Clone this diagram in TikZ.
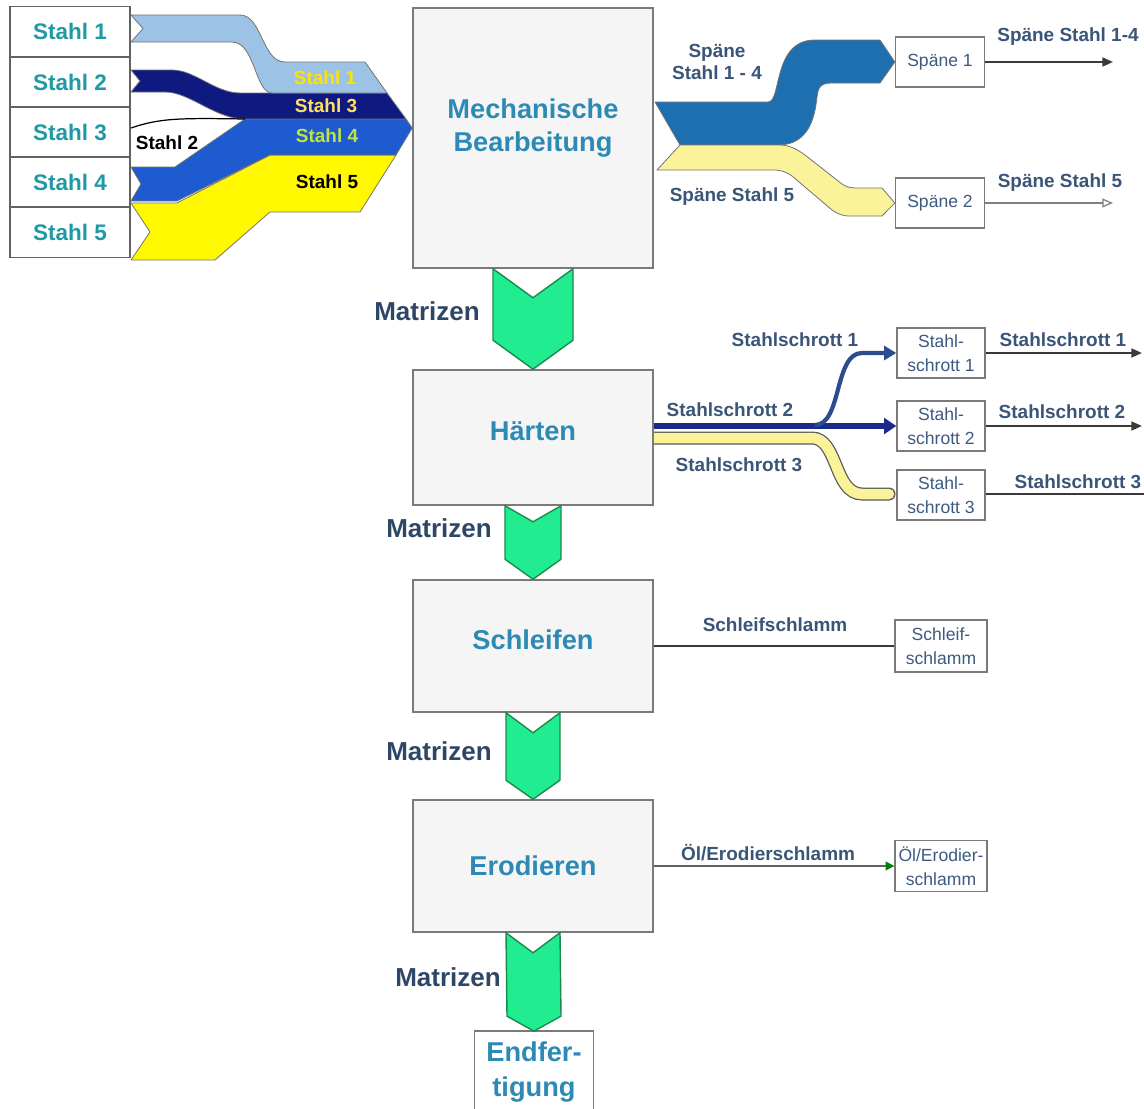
\documentclass[tikz,border=0pt]{standalone}
\usepackage{fontspec}
\setmainfont{Liberation Sans}
\usetikzlibrary{arrows.meta,calc,backgrounds}
\definecolor{boxgray}{HTML}{7A7A7A}
\definecolor{boxfill}{HTML}{F5F5F5}
\definecolor{titleblue}{HTML}{2C8AB5}
\definecolor{tealtxt}{HTML}{1F9AA5}
\definecolor{labeltxt}{HTML}{3B5578}
\definecolor{mattxt}{HTML}{2E4766}
\definecolor{smalltxt}{HTML}{3D5A80}
\definecolor{chevgreen}{HTML}{22EC90}
\definecolor{chevedge}{HTML}{1B8A4E}
\definecolor{lightblue}{HTML}{9CC3E6}
\definecolor{navyband}{HTML}{0E1A80}
\definecolor{midblue}{HTML}{1F5BD0}
\definecolor{stahlyellow}{HTML}{FFF800}
\definecolor{spaneblue}{HTML}{1E6FB0}
\definecolor{paleyellow}{HTML}{FAF39A}
\definecolor{navyline}{HTML}{1A2A8C}
\definecolor{ssblue}{HTML}{2D4C8F}
\definecolor{outgray}{HTML}{3A3A3A}
\begin{document}
\begin{tikzpicture}[x=0.02cm,y=-0.02cm,
  bigbox/.style={draw=boxgray, line width=0.9pt, fill=boxfill, inner sep=0pt},
  title/.style={font=\fontsize{15.5}{18.8}\selectfont\bfseries, text=titleblue, align=center, inner sep=0pt},
  stahlbox/.style={draw=boxgray!80!black, line width=0.9pt, fill=white, minimum width=2.4cm, minimum height=1cm, inner sep=0pt, font=\fontsize{12.8}{14}\selectfont\bfseries, text=tealtxt},
  smallbox/.style={draw=boxgray, line width=0.8pt, fill=white, minimum width=1.78cm, minimum height=1cm, inner sep=0pt, font=\fontsize{10}{13.5}\selectfont, text=smalltxt, align=center},
  lbl/.style={font=\fontsize{10.8}{12}\selectfont\bfseries, text=labeltxt, inner sep=0pt, align=center},
  flowlbl/.style={font=\fontsize{10.8}{12}\selectfont\bfseries, inner sep=0pt},
  matlbl/.style={font=\fontsize{14.8}{16}\selectfont\bfseries, text=mattxt, inner sep=0pt},
  chev/.style={fill=chevgreen, draw=chevedge, line width=0.8pt, line join=miter},
  flowedge/.style={draw=black!55, line width=0.45pt, line join=round},
  outarrow/.style={draw=outgray, line width=1.1pt, -{Triangle[length=6pt,width=5pt]}},
]
\useasboundingbox (0,0) rectangle (1144,1109);
\begin{scope}[on background layer]
\fill[white] (0,0) rectangle (1144,1109);
\end{scope}

% ---- input boxes
\node[stahlbox] (s1) at (70,31.5) {Stahl 1};
\node[stahlbox] (s2) at (70,82) {Stahl 2};
\node[stahlbox] (s3) at (70,132) {Stahl 3};
\node[stahlbox] (s4) at (70,182) {Stahl 4};
\node[stahlbox] (s5) at (70,232.5) {Stahl 5};

% ---- process boxes
\node[bigbox, minimum width=4.8cm, minimum height=5.2cm] (mb) at (533,138) {};
\node[title] (mbt) at (533,128) {Mechanische\\Bearbeitung};
\node[bigbox, minimum width=4.8cm, minimum height=2.7cm] (h) at (533,437.5) {};
\node[title] (ht) at (533,431) {Härten};
\node[bigbox, minimum width=4.8cm, minimum height=2.64cm] (sc) at (533,646) {};
\node[title] (sct) at (533,640) {Schleifen};
\node[bigbox, minimum width=4.8cm, minimum height=2.64cm] (er) at (533,866) {};
\node[title] (ert) at (533,866) {Erodieren};
\node[fill=white, minimum width=2.36cm, minimum height=1.86cm, inner sep=0pt] (ef) at (534,1078) {};
\draw[draw=boxgray, line width=0.9pt] (ef.south west) -- (ef.north west) -- (ef.north east) -- (ef.south east);
\node[title, font=\fontsize{15.5}{20}\selectfont\bfseries] (eft) at (534,1072) {Endfer-\\tigung};

% ---- output boxes
\node[smallbox] (sp1) at (940,62) {Späne 1};
\node[smallbox] (sp2) at (940,203) {Späne 2};
\node[smallbox, minimum width=1.76cm] (ss1) at (941,353) {Stahl-\\schrott 1};
\node[smallbox, minimum width=1.76cm] (ss2) at (941,426) {Stahl-\\schrott 2};
\node[smallbox, minimum width=1.76cm] (ss3) at (941,495) {Stahl-\\schrott 3};
\node[smallbox, minimum width=1.84cm, minimum height=1.04cm] (sl) at (941,646) {Schleif-\\schlamm};
\node[smallbox, minimum width=1.84cm, minimum height=1.02cm] (oe) at (941,866) {Öl/Erodier-\\schlamm};

% ---- input flows (Sankey bands)
\filldraw[flowedge, fill=stahlyellow] (131,203) -- (177,203) -- (270,155) -- (396,155) -- (360,212) -- (270,212) -- (215,260) -- (131,260) -- (150,232) -- cycle;
\filldraw[flowedge, fill=midblue] (131,167) -- (175,167) -- (245,119) -- (406,119) -- (mb.west |- 0,128) -- (396,155) -- (270,155) -- (177,201) -- (131,201) -- (141,184) -- cycle;
\filldraw[flowedge, fill=navyband] (131,70) -- (172,70) .. controls (195,70) and (215,93) .. (240,93) -- (387,93) -- (406,119) -- (245,119) .. controls (215,119) and (190,92) .. (165,92) -- (131,92) -- (140,81) -- cycle;
\filldraw[flowedge, fill=lightblue] (131,15) -- (240,15) .. controls (262,15) and (262,62) .. (285,62) -- (365,62) -- (387,93) -- (272,93) .. controls (255,93) and (255,42) .. (232,42) -- (131,42) -- (143,28.5) -- cycle;
\draw[black, line width=0.7pt] (131,128) .. controls (160,118) and (180,118) .. (245,119);

\node[flowlbl, text=yellow!85!orange] at (325,78) {Stahl 1};
\node[flowlbl, text=orange!40!yellow!60!white] at (326,106) {Stahl 3};
\node[flowlbl, text=yellow!70!green!80!white] at (327,136) {Stahl 4};
\node[flowlbl, text=black] at (327,182) {Stahl 5};
\node[flowlbl, text=black] at (167,143) {Stahl 2};

% ---- Späne flows
\filldraw[flowedge, fill=spaneblue] (655,102) -- (768,102) .. controls (782,102) and (772,40) .. (815,40) -- (880,40) -- (sp1.west) -- (880,83) -- (832,83) .. controls (822,83) and (818,86) .. (817,97) .. controls (815,115) and (810,145) .. (778,145) -- (680,145) -- cycle;
\filldraw[flowedge, fill=paleyellow] (680,145) -- (780,145) .. controls (790,145) and (798,150) .. (805,155) -- (842,184) .. controls (848,188) and (852,188) .. (860,188) -- (882,188) -- (sp2.west) -- (882,216) -- (850,216) .. controls (842,216) and (838,214) .. (832,210) -- (792,176) .. controls (785,171) and (780,170) .. (772,170) -- (657,170) -- cycle;
\node[lbl] at (717,62) {Späne\\Stahl 1 - 4};
\node[lbl] at (732,197) {Späne Stahl 5};

\coordinate (o1) at (1113,62);
\coordinate (o2) at (1113,203);
\draw[outarrow] (sp1.east) -- (o1);
\draw[draw=gray, line width=0.7pt, -{Triangle[open,length=6pt,width=5pt]}] (sp2.east) -- (o2);
\node[lbl] at (1068,37) {Späne Stahl 1-4};
\node[lbl] at (1060,183) {Späne Stahl 5};

% ---- Härten outputs
\begin{scope}[on background layer]
\draw[line width=0.26cm, draw=black!65, line cap=round] (650,438) -- (812,438) .. controls (838,438) and (834,494) .. (862,494) -- (889,494);
\draw[line width=0.21cm, draw=paleyellow, line cap=round] (650,438) -- (812,438) .. controls (838,438) and (834,494) .. (862,494) -- (889,494);
\end{scope}
\draw[line width=3.4pt, draw=navyline, -{Triangle[length=7pt,width=9pt]}] ($(h.east)+(0,-11.5)$) -- (ss2.west);
\draw[line width=2.4pt, draw=ssblue, -{Triangle[length=7pt,width=8pt]}] (815,425) .. controls (842,425) and (834,353) .. (862,353) -- (ss1.west);
\node[lbl] at (795,340) {Stahlschrott 1};
\node[lbl] at (730,410) {Stahlschrott 2};
\node[lbl] at (739,465) {Stahlschrott 3};

\coordinate (o3) at (1142,353);
\coordinate (o4) at (1142,426);
\coordinate (o5) at (1144,494);
\draw[outarrow] (ss1.east) -- (o3);
\draw[outarrow] (ss2.east) -- (o4);
\draw[draw=outgray, line width=1.1pt] (ss3.east |- o5) -- (o5);
\node[lbl] at (1063,340) {Stahlschrott 1};
\node[lbl] at (1062,412) {Stahlschrott 2};
\node[lbl] at (1078,482) {Stahlschrott 3};

% ---- Schleifen / Erodieren outputs
\draw[draw=outgray, line width=1.1pt] (sc.east) -- (sl.west);
\node[lbl] at (775,625) {Schleifschlamm};
\draw[draw=outgray!80, line width=0.9pt, -{Triangle[length=5pt,width=5pt,color=green!50!black]}] (er.east) -- (oe.west);
\node[lbl] at (768,853) {Öl/Erodierschlamm};

% ---- Matrizen chevrons
\draw[chev] ($(mb.south)+(-40,0)$) -- ($(mb.south)+(0,29)$) -- ($(mb.south)+(40,0)$) -- ($(h.north)+(40,-29)$) -- (h.north) -- ($(h.north)+(-40,-29)$) -- cycle;
\draw[chev] ($(h.south)+(-28,0)$) -- ($(h.south)+(0,16)$) -- ($(h.south)+(28,0)$) -- ($(sc.north)+(28,-20)$) -- (sc.north) -- ($(sc.north)+(-28,-20)$) -- cycle;
\draw[chev] ($(sc.south)+(-27,0)$) -- ($(sc.south)+(0,20)$) -- ($(sc.south)+(27,0)$) -- ($(er.north)+(27,-19)$) -- (er.north) -- ($(er.north)+(-27,-19)$) -- cycle;
\draw[chev] ($(er.south)+(-27,0)$) -- ($(er.south)+(0,20)$) -- ($(er.south)+(27,0)$) -- ($(ef.north)+(27,-15)$) -- (ef.north) -- ($(ef.north)+(-27,-15)$) -- cycle;

\node[matlbl] at (427,311) {Matrizen};
\node[matlbl] at (439,528) {Matrizen};
\node[matlbl] at (439,751) {Matrizen};
\node[matlbl] at (448,977) {Matrizen};
\end{tikzpicture}
\end{document}
